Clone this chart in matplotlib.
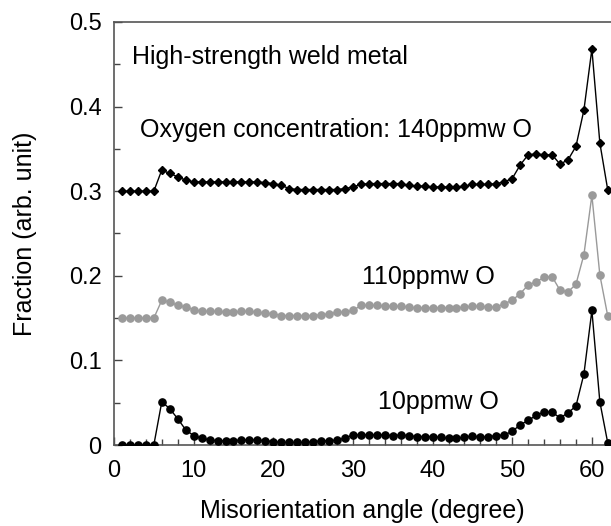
#!/usr/bin/env python
"""Misorientation angle distribution for high-strength weld metal."""

import matplotlib

matplotlib.use("Agg")
import matplotlib.pyplot as plt
from matplotlib.ticker import MultipleLocator

plt.rcParams["font.family"] = ["Liberation Sans", "DejaVu Sans"]

angle = list(range(1, 63))

frac_140 = [
    0.300, 0.300, 0.300, 0.300, 0.300, 0.325, 0.321, 0.317, 0.313, 0.311,
    0.311, 0.311, 0.311, 0.311, 0.311, 0.311, 0.311, 0.311, 0.310, 0.309,
    0.307, 0.303, 0.302, 0.302, 0.302, 0.302, 0.302, 0.302, 0.303, 0.305,
    0.308, 0.309, 0.309, 0.309, 0.309, 0.309, 0.307, 0.306, 0.306, 0.305,
    0.305, 0.305, 0.305, 0.306, 0.308, 0.308, 0.308, 0.309, 0.311, 0.315,
    0.331, 0.343, 0.344, 0.343, 0.343, 0.332, 0.337, 0.353, 0.396, 0.468,
    0.357, 0.301,
]

frac_110 = [
    0.150, 0.150, 0.150, 0.150, 0.150, 0.171, 0.169, 0.165, 0.163, 0.160,
    0.158, 0.158, 0.158, 0.157, 0.157, 0.158, 0.158, 0.157, 0.156, 0.155,
    0.153, 0.153, 0.153, 0.153, 0.153, 0.154, 0.155, 0.157, 0.157, 0.159,
    0.165, 0.165, 0.165, 0.164, 0.164, 0.164, 0.163, 0.162, 0.162, 0.162,
    0.162, 0.162, 0.162, 0.163, 0.164, 0.164, 0.163, 0.163, 0.167, 0.171,
    0.179, 0.189, 0.193, 0.198, 0.199, 0.183, 0.181, 0.190, 0.225, 0.295,
    0.201, 0.152,
]

frac_10 = [
    0.000, 0.000, 0.000, 0.000, 0.000, 0.051, 0.043, 0.031, 0.018, 0.011,
    0.008, 0.006, 0.005, 0.005, 0.005, 0.006, 0.006, 0.006, 0.005, 0.004,
    0.003, 0.003, 0.003, 0.003, 0.004, 0.005, 0.005, 0.006, 0.008, 0.012,
    0.012, 0.012, 0.012, 0.012, 0.011, 0.012, 0.011, 0.010, 0.010, 0.010,
    0.009, 0.008, 0.008, 0.009, 0.011, 0.009, 0.010, 0.011, 0.012, 0.016,
    0.024, 0.029, 0.035, 0.039, 0.039, 0.032, 0.038, 0.046, 0.084, 0.159,
    0.051, 0.002,
]

y_ticks = [0, 0.1, 0.2, 0.3, 0.4, 0.5]
y_tick_labels = ["0", "0.1", "0.2", "0.3", "0.4", "0.5"]

fig = plt.figure(figsize=(6.11, 5.26), dpi=100)
ax = fig.add_axes([114 / 611, 81 / 526, 497 / 611, 423 / 526])

ax.plot(angle, frac_140, color="black", lw=1.0, marker="D", ms=4.2, zorder=3)
ax.plot(angle, frac_110, color="#9a9a9a", lw=1.0, marker="o", ms=5.2, zorder=3)
ax.plot(angle, frac_10, color="black", lw=1.0, marker="o", ms=5.2, zorder=3)

ax.set_xlim(0, 62.4)
ax.set_ylim(0, 0.5)
ax.xaxis.set_major_locator(MultipleLocator(10))
ax.xaxis.set_minor_locator(MultipleLocator(2))
ax.set_yticks(y_ticks)
ax.set_yticklabels(y_tick_labels)
ax.yaxis.set_minor_locator(MultipleLocator(0.05))
ax.tick_params(which="both", direction="in", top=False, right=False,
               labelsize=17, color="#444444", width=1.0)
ax.tick_params(which="major", length=6)
ax.tick_params(which="minor", length=4)
ax.tick_params(axis="x", which="major", pad=11)
ax.tick_params(axis="y", which="major", pad=9)

ax.spines["right"].set_visible(False)
for side in ("left", "top", "bottom"):
    ax.spines[side].set_color("#555555")
    ax.spines[side].set_linewidth(1.2)

ax.set_xlabel("Misorientation angle (degree)", fontsize=18, labelpad=12)
ax.set_ylabel("Fraction (arb. unit)", fontsize=18, labelpad=23)

ax.text(2.26, 0.459, "High-strength weld metal", fontsize=18, va="center")
ax.text(3.26, 0.372, "Oxygen concentration: 140ppmw O", fontsize=18, va="center")
ax.text(31.2, 0.199, "110ppmw O", fontsize=18, va="center")
ax.text(33.1, 0.051, "10ppmw O", fontsize=18, va="center")

fig.savefig("out.png", dpi=100)
